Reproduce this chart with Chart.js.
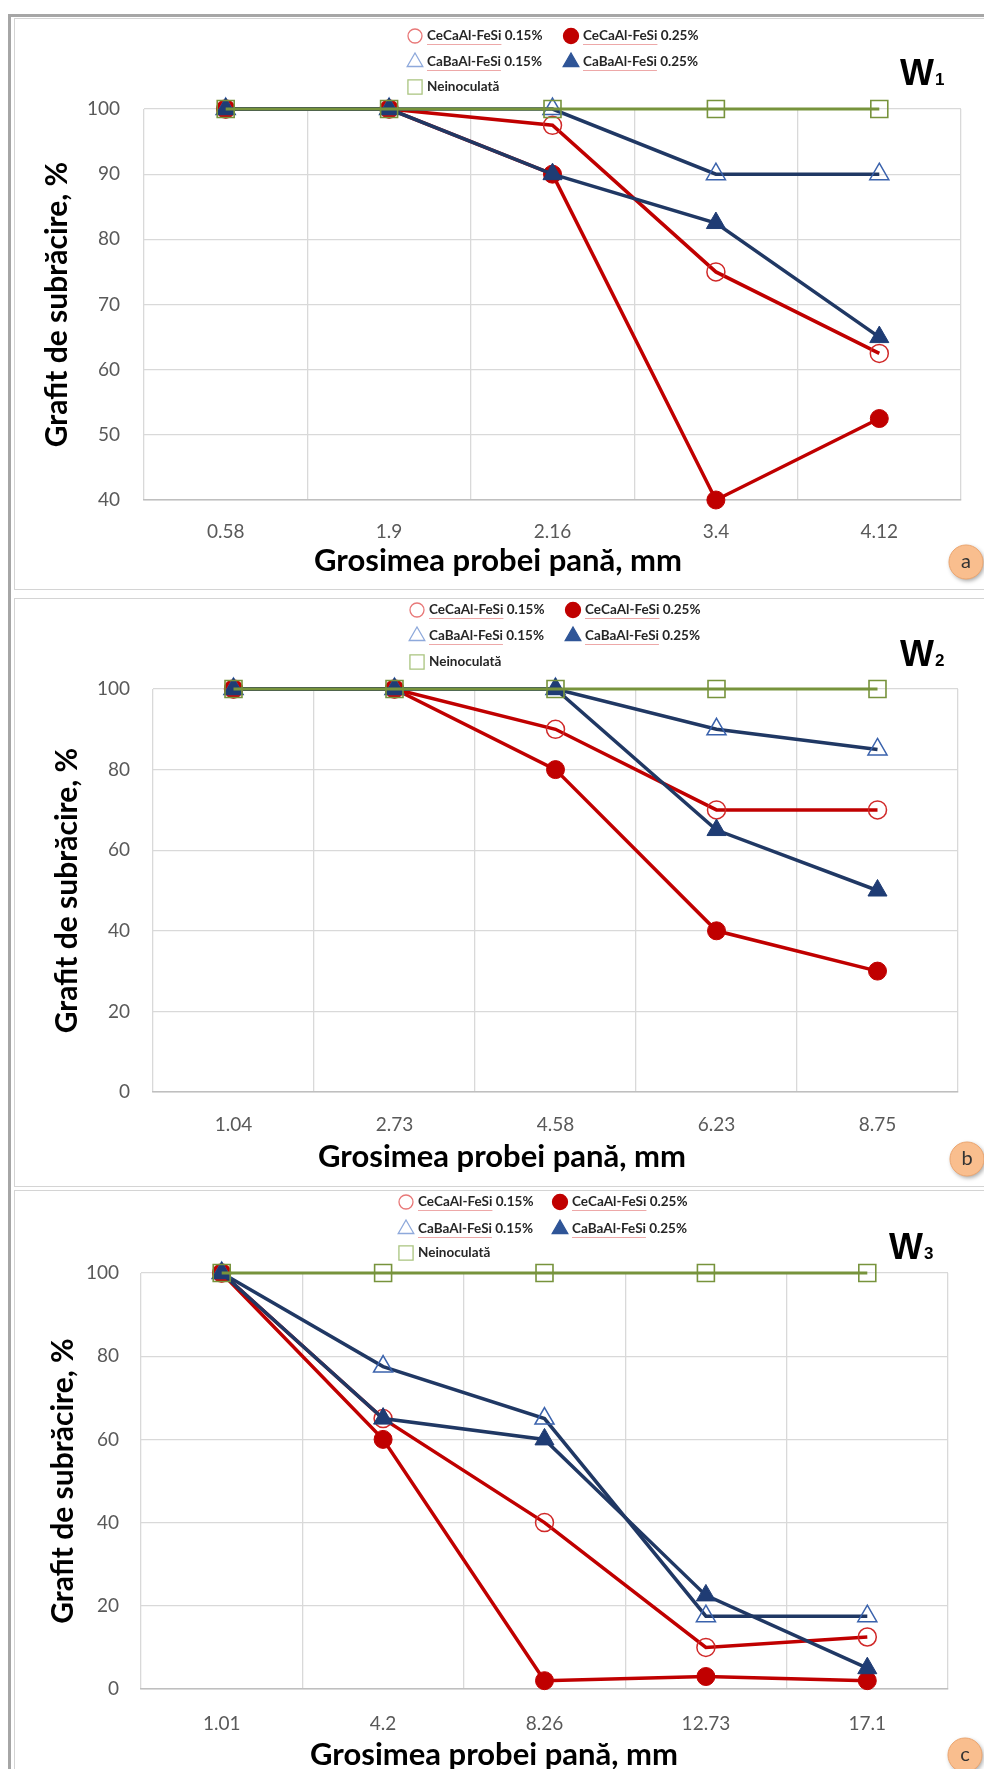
<!DOCTYPE html>
<html><head><meta charset="utf-8">
<script src="https://cdn.jsdelivr.net/npm/chart.js@4.4.1/dist/chart.umd.min.js"></script>
<style>
html,body{margin:0;padding:0;background:#fff;}
body{width:984px;height:1769px;position:relative;overflow:hidden;}
canvas{position:absolute;left:0;}
.frame{position:absolute;border:1.5px solid #D4D4D4;box-sizing:border-box;}
.line{position:absolute;background:#A6A6A6;}
</style></head><body>
<div class="line" style="left:8px;top:14px;width:3px;height:1755px"></div>
<div class="line" style="left:8px;top:14px;width:976px;height:3px"></div>
<div class="frame" style="left:14px;top:18px;width:972px;height:572px"></div>
<div class="frame" style="left:14px;top:598px;width:972px;height:589px"></div>
<div class="frame" style="left:14px;top:1190px;width:972px;height:590px"></div>
<canvas id="cA" width="984" height="592" style="top:0px;width:984px;height:592px"></canvas>
<canvas id="cB" width="984" height="596" style="top:592px;width:984px;height:596px"></canvas>
<canvas id="cC" width="984" height="600" style="top:1188px;width:984px;height:600px"></canvas>
<script>
// ---------- DATA ----------
const seriesNames = ['CeCaAl-FeSi 0.15%', 'CeCaAl-FeSi 0.25%', 'CaBaAl-FeSi 0.15%', 'CaBaAl-FeSi 0.25%', 'Neinoculată'];
const xTitle = 'Grosimea probei pană, mm';
const yTitle = 'Grafit de subrăcire, %';

// Panel a (W1)
const catsA = ['0.58', '1.9', '2.16', '3.4', '4.12'];
const ceca015A = [100, 100, 97.5, 75, 62.5];
const ceca025A = [100, 100, 90, 40, 52.5];
const caba015A = [100, 100, 100, 90, 90];
const caba025A = [100, 100, 90, 82.5, 65];
const neinocA = [100, 100, 100, 100, 100];
const yTicksA = [40, 50, 60, 70, 80, 90, 100];

// Panel b (W2)
const catsB = ['1.04', '2.73', '4.58', '6.23', '8.75'];
const ceca015B = [100, 100, 90, 70, 70];
const ceca025B = [100, 100, 80, 40, 30];
const caba015B = [100, 100, 100, 90, 85];
const caba025B = [100, 100, 100, 65, 50];
const neinocB = [100, 100, 100, 100, 100];
const yTicksB = [0, 20, 40, 60, 80, 100];

// Panel c (W3)
const catsC = ['1.01', '4.2', '8.26', '12.73', '17.1'];
const ceca015C = [100, 65, 40, 10, 12.5];
const ceca025C = [100, 60, 2, 3, 2];
const caba015C = [100, 77.5, 65, 17.5, 17.5];
const caba025C = [100, 65, 60, 22.5, 5];
const neinocC = [100, 100, 100, 100, 100];
const yTicksC = [0, 20, 40, 60, 80, 100];

// ---------- STYLES ----------
const styles = [
  {line:'#C00000', lw:3.5, ps:'circle',   r:9,  fill:'rgba(0,0,0,0)', stroke:'#D02828', bw:1.5, lfill:'rgba(0,0,0,0)', lstroke:'#E87878', lr:7},
  {line:'#C00000', lw:3.5, ps:'circle',   r:9,  fill:'#C00000',       stroke:'#C00000', bw:1,   lfill:'#C00000',       lstroke:'#C00000', lr:7.5},
  {line:'#203864', lw:3.5, ps:'triangle', r:11, fill:'rgba(0,0,0,0)', stroke:'#3A62AC', bw:1.5, lfill:'rgba(0,0,0,0)', lstroke:'#8EA9DB', lr:9},
  {line:'#203864', lw:3.5, ps:'triangle', r:11, fill:'#1F3C74',       stroke:'#1F3C74', bw:1,   lfill:'#2F5597',       lstroke:'#2F5597', lr:9},
  {line:'#77933C', lw:2.8, ps:'rect',     r:12, fill:'rgba(0,0,0,0)', stroke:'#77933C', bw:1.6, lfill:'rgba(0,0,0,0)', lstroke:'#A9C47F', lr:10}
];

function drawMarker(ctx, ps, x, y, r) {
  ctx.beginPath();
  if (ps === 'circle') {
    ctx.arc(x, y, r, 0, Math.PI * 2);
  } else if (ps === 'triangle') {
    const w = r * 0.866;
    ctx.moveTo(x, y - r);
    ctx.lineTo(x + w, y + r * 0.5);
    ctx.lineTo(x - w, y + r * 0.5);
    ctx.closePath();
  } else {
    const s = r * 0.707;
    ctx.rect(x - s, y - s, 2 * s, 2 * s);
  }
  ctx.fill();
  ctx.stroke();
}

function overlayPlugin(g) {
  return {
    id: 'overlay',
    afterDraw(chart) {
      const ctx = chart.ctx;
      ctx.save();
      // legend
      const pos = [[g.lx1, g.ly[0]], [g.lx2, g.ly[0]], [g.lx1, g.ly[1]], [g.lx2, g.ly[1]], [g.lx1, g.ly[2]]];
      ctx.font = 'bold 13.5px Lato';
      ctx.textBaseline = 'middle';
      ctx.textAlign = 'left';
      seriesNames.forEach((name, i) => {
        const st = styles[i];
        const [x, y] = pos[i];
        ctx.fillStyle = st.lfill;
        ctx.strokeStyle = st.lstroke;
        ctx.lineWidth = 1.3;
        drawMarker(ctx, st.ps, x, y, st.lr);
        ctx.fillStyle = '#262626';
        const tx = x + 12;
        ctx.fillText(name, tx, y);
        const first = name.split(' ')[0];
        if (first.indexOf('-') > 0) {
          const w = ctx.measureText(first).width;
          ctx.strokeStyle = 'rgba(225,110,110,0.6)';
          ctx.lineWidth = 1;
          ctx.beginPath();
          ctx.moveTo(tx, y + 8.5);
          ctx.lineTo(tx + w, y + 8.5);
          ctx.stroke();
        }
      });
      // x-axis title (offset left of the plot centre, as in the original)
      ctx.fillStyle = '#000';
      ctx.font = 'bold 31px Lato';
      ctx.textAlign = 'center';
      ctx.textBaseline = 'middle';
      ctx.fillText(xTitle, g.xtx, g.xty);
      // W label
      ctx.textAlign = 'left';
      ctx.textBaseline = 'alphabetic';
      ctx.font = 'bold 36px "Liberation Sans"';
      ctx.fillText('W', g.wx, g.wy);
      const ww = ctx.measureText('W').width;
      ctx.font = 'bold 17px "Liberation Sans"';
      ctx.fillText(g.wsub, g.wx + ww + 1, g.wy);
      // badge
      ctx.save();
      ctx.shadowColor = 'rgba(0,0,0,0.35)';
      ctx.shadowBlur = 4;
      ctx.shadowOffsetX = 1.5;
      ctx.shadowOffsetY = 2;
      ctx.fillStyle = '#F9BE8E';
      ctx.beginPath();
      ctx.arc(g.bx, g.by, 17, 0, Math.PI * 2);
      ctx.fill();
      ctx.restore();
      ctx.strokeStyle = '#EBA56F';
      ctx.lineWidth = 1;
      ctx.beginPath();
      ctx.arc(g.bx, g.by, 17, 0, Math.PI * 2);
      ctx.stroke();
      ctx.fillStyle = '#333';
      ctx.font = '20px Lato';
      ctx.textAlign = 'center';
      ctx.textBaseline = 'middle';
      ctx.fillText(g.badge, g.bx, g.by);
      ctx.restore();
    }
  };
}

function makeChart(id, cats, series, yTicks, g) {
  const datasets = series.map((vals, i) => {
    const st = styles[i];
    return {
      label: seriesNames[i],
      data: vals,
      order: series.length - 1 - i,
      borderColor: st.line,
      borderWidth: st.lw,
      tension: 0,
      clip: false,
      pointStyle: st.ps,
      pointRadius: st.r,
      pointHoverRadius: st.r,
      pointBackgroundColor: st.fill,
      pointBorderColor: st.stroke,
      pointBorderWidth: st.bw
    };
  });
  const canvasW = 984;
  return new Chart(document.getElementById(id), {
    type: 'line',
    data: { labels: cats, datasets },
    plugins: [overlayPlugin(g)],
    options: {
      responsive: false,
      animation: false,
      events: [],
      layout: { padding: { left: 0, top: g.top, right: canvasW - g.right, bottom: 0 } },
      plugins: { legend: { display: false }, tooltip: { enabled: false } },
      scales: {
        x: {
          type: 'category',
          offset: true,
          grid: { offset: true, color: '#D9D9D9', lineWidth: 1.3, drawTicks: false },
          border: { color: '#BFBFBF', width: 1.5 },
          ticks: { color: '#595959', font: { family: 'Lato', size: 19 }, padding: g.xTickPad, maxRotation: 0, autoSkip: false },
          title: { display: false, text: xTitle },
          afterFit(s) { s.height = g.xAxisH; }
        },
        y: {
          min: yTicks[0],
          max: yTicks[yTicks.length - 1],
          grid: { color: '#D9D9D9', lineWidth: 1.3, drawTicks: false },
          border: { display: false },
          ticks: { stepSize: yTicks[1] - yTicks[0], color: '#595959', font: { family: 'Lato', size: 19 }, padding: g.yTickPad },
          title: { display: true, text: yTitle, color: '#000', font: { family: 'Lato', size: 30, weight: 'bold' }, padding: { top: g.yTitlePad, bottom: 0 } },
          afterFit(s) { s.width = g.yAxisW; }
        }
      }
    }
  });
}

makeChart('cA', catsA, [ceca015A, ceca025A, caba015A, caba025A, neinocA], yTicksA,
  { top: 109, right: 961, yAxisW: 144, xAxisH: 92, xTickPad: 20.6, yTickPad: 24, yTitlePad: 39,
    xtx: 498, xty: 561,
    lx1: 415, lx2: 571, ly: [36, 62, 87], wx: 900, wy: 85, wsub: '1', bx: 966, by: 562, badge: 'a' });
makeChart('cB', catsB, [ceca015B, ceca025B, caba015B, caba025B, neinocB], yTicksB,
  { top: 97, right: 958, yAxisW: 153, xAxisH: 96, xTickPad: 21.6, yTickPad: 23, yTitlePad: 49,
    xtx: 502, xty: 565,
    lx1: 417, lx2: 573, ly: [18, 44, 70], wx: 900, wy: 74, wsub: '2', bx: 967, by: 567, badge: 'b' });
makeChart('cC', catsC, [ceca015C, ceca025C, caba015C, caba025C, neinocC], yTicksC,
  { top: 85, right: 948, yAxisW: 141, xAxisH: 99, xTickPad: 23.6, yTickPad: 22, yTitlePad: 45,
    xtx: 494, xty: 567,
    lx1: 406, lx2: 560, ly: [14, 41, 65], wx: 889, wy: 71, wsub: '3', bx: 965, by: 567, badge: 'c' });
</script>
</body></html>
